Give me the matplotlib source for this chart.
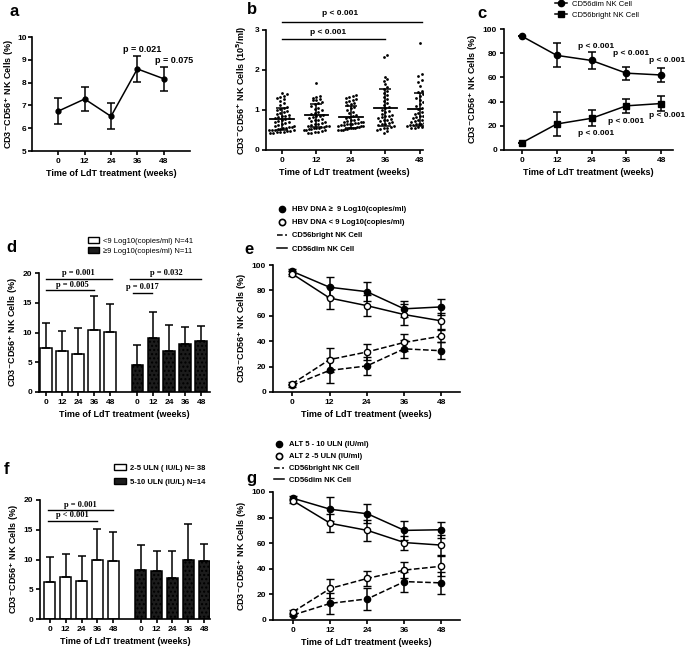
import matplotlib
matplotlib.use("Agg")
import matplotlib.pyplot as plt
import numpy as np
from matplotlib.lines import Line2D
from matplotlib.patches import Patch

plt.rcParams["font.family"] = ["Liberation Sans", "DejaVu Sans"]
plt.rcParams["font.weight"] = "bold"
plt.rcParams["axes.labelweight"] = "bold"
plt.rcParams["mathtext.default"] = "bf"

# ---- data ----
weeks = [0, 12, 24, 36, 48]
week_labels = ["0", "12", "24", "36", "48"]

# a: total NK %
a_mean = [6.75, 7.28, 6.52, 8.60, 8.17]
a_sd = [0.57, 0.51, 0.57, 0.58, 0.52]

# b: absolute counts per time point (10^5/ml)
b_w0 = [1.42, 1.40, 1.36, 1.33, 1.30, 1.27, 1.22, 1.18, 1.12, 1.08, 1.05, 1.03, 1.00, 0.97, 0.95,
        0.92, 0.90, 0.88, 0.86, 0.84, 0.82, 0.80, 0.79, 0.77, 0.75, 0.73, 0.71, 0.69, 0.67, 0.65,
        0.63, 0.61, 0.60, 0.58, 0.57, 0.55, 0.54, 0.53, 0.52, 0.51, 0.50, 0.50, 0.49, 0.48, 0.47,
        0.46, 0.45, 0.44, 0.43, 0.42]
b_w12 = [1.68, 1.35, 1.32, 1.30, 1.28, 1.26, 1.24, 1.20, 1.17, 1.14, 1.10, 1.06, 1.02, 0.99, 0.96,
         0.93, 0.90, 0.88, 0.86, 0.84, 0.82, 0.80, 0.78, 0.76, 0.74, 0.72, 0.70, 0.68, 0.66, 0.64,
         0.62, 0.61, 0.60, 0.59, 0.58, 0.57, 0.56, 0.55, 0.54, 0.53, 0.52, 0.51, 0.50, 0.49, 0.48,
         0.46, 0.44, 0.43, 0.42]
b_w24 = [1.38, 1.36, 1.33, 1.30, 1.28, 1.25, 1.23, 1.21, 1.18, 1.15, 1.12, 1.08, 1.04, 1.00, 0.96,
         0.92, 0.88, 0.85, 0.82, 0.80, 0.78, 0.76, 0.74, 0.72, 0.71, 0.70, 0.69, 0.68, 0.67, 0.66,
         0.65, 0.64, 0.63, 0.62, 0.61, 0.60, 0.59, 0.58, 0.57, 0.56, 0.55, 0.55, 0.54, 0.53, 0.52,
         0.51, 0.50, 0.50]
b_w36 = [2.38, 2.32, 1.82, 1.78, 1.72, 1.65, 1.58, 1.52, 1.48, 1.42, 1.38, 1.32, 1.28, 1.22, 1.18,
         1.12, 1.08, 1.04, 1.00, 0.97, 0.94, 0.91, 0.88, 0.86, 0.84, 0.82, 0.80, 0.78, 0.76, 0.74,
         0.72, 0.70, 0.68, 0.66, 0.64, 0.62, 0.60, 0.58, 0.56, 0.54, 0.52, 0.50, 0.47, 0.42]
b_w48 = [2.68, 1.90, 1.85, 1.76, 1.70, 1.60, 1.48, 1.44, 1.40, 1.36, 1.30, 1.25, 1.20, 1.15, 1.10,
         1.06, 1.02, 0.98, 0.95, 0.92, 0.90, 0.88, 0.86, 0.84, 0.82, 0.80, 0.78, 0.76, 0.75, 0.74,
         0.72, 0.71, 0.70, 0.69, 0.68, 0.67, 0.66, 0.65, 0.64, 0.63, 0.62, 0.61, 0.60, 0.59, 0.58,
         0.57, 0.56, 0.55]
b_mean = [0.77, 0.87, 0.83, 1.06, 1.02]
b_sd = [0.27, 0.29, 0.28, 0.47, 0.41]

# c: subsets
c_dim = [94.0, 78.2, 74.0, 63.5, 62.0]
c_dim_sd = [0.0, 10.0, 6.7, 5.5, 6.0]
c_bright = [6.0, 21.5, 26.2, 36.5, 38.4]
c_bright_sd = [0.0, 10.2, 6.5, 6.0, 6.2]

# d: by HBV DNA (bars)
d_low = [7.4, 6.85, 6.45, 10.5, 10.1]
d_low_sd = [4.2, 3.45, 4.35, 5.7, 4.7]
d_high = [4.55, 9.0, 6.9, 8.0, 8.5]
d_high_sd = [3.3, 4.5, 4.3, 2.95, 2.6]

# e: subsets by HBV DNA
e_dim_high = [95.0, 82.5, 79.0, 65.5, 67.0]
e_dim_high_sd = [2.0, 8.0, 7.5, 6.5, 6.3]
e_dim_low = [93.0, 74.0, 68.0, 61.0, 56.0]
e_dim_low_sd = [2.0, 9.0, 8.5, 8.0, 6.5]
e_bright_high = [5.2, 17.0, 20.5, 34.0, 32.5]
e_bright_high_sd = [1.0, 10.0, 7.2, 7.0, 6.5]
e_bright_low = [6.5, 25.5, 31.5, 39.0, 44.0]
e_bright_low_sd = [1.0, 9.5, 6.0, 6.5, 5.0]

# f: by ALT (bars)
f_low = [6.2, 7.0, 6.4, 9.9, 9.7]
f_low_sd = [4.2, 3.9, 4.2, 5.15, 4.9]
f_high = [8.3, 8.0, 6.85, 10.0, 9.75]
f_high_sd = [4.1, 3.5, 4.5, 6.0, 2.9]

# g: subsets by ALT
g_dim_high = [95.0, 86.5, 83.0, 70.0, 70.5]
g_dim_high_sd = [1.5, 9.5, 7.5, 7.3, 6.3]
g_dim_low = [93.0, 75.5, 70.0, 60.5, 58.5]
g_dim_low_sd = [1.5, 7.0, 8.5, 5.5, 8.0]
g_bright_high = [4.0, 13.0, 16.5, 30.0, 29.0]
g_bright_high_sd = [1.0, 8.3, 8.6, 7.8, 8.3]
g_bright_low = [6.5, 24.7, 32.5, 39.0, 42.0]
g_bright_low_sd = [1.0, 7.5, 6.0, 6.5, 7.8]

W, H = 685, 649
YLAB = "CD3$^{-}$CD56$^{+}$ NK Cells (%)"
XLAB = "Time of LdT treatment (weeks)"
FS = 6.0


def px_axes(fig, x0, y0, x1, y1):
    """axes from pixel box (left, top, right, bottom)"""
    return fig.add_axes([x0 / W, 1 - y1 / H, (x1 - x0) / W, (y1 - y0) / H])


def style(ax):
    for s in ["top", "right"]:
        ax.spines[s].set_visible(False)
    for s in ["left", "bottom"]:
        ax.spines[s].set_linewidth(1.2)
    ax.tick_params(width=1.2, length=3, labelsize=FS, pad=2)
    for lbl in ax.get_xticklabels() + ax.get_yticklabels():
        lbl.set_fontweight("bold")
    ax.set_xlabel(XLAB, fontsize=FS + 0.5, labelpad=3)


def panel_label(fig, x, y, s):
    fig.text(x / W, 1 - y / H, s, fontsize=12, fontweight="bold", ha="center", va="center")


def line_panel(ax, series, ylim, yticks):
    for vals, sd, filled, dashed in series:
        ax.errorbar(weeks, vals, yerr=sd, color="black", lw=1.1, ls="--" if dashed else "-",
                    marker="o", ms=4.5, mfc="black" if filled else "white", mec="black", mew=1.0,
                    capsize=3, capthick=1.1, elinewidth=1.1)
    ax.set_xlim(-6.2, 54)
    ax.set_ylim(*ylim)
    ax.set_xticks(weeks, week_labels)
    ax.set_yticks(yticks)
    ax.set_ylabel(YLAB, fontsize=FS + 0.5, labelpad=2)
    style(ax)


def bar_panel(ax, low, low_sd, high, high_sd):
    pos1 = np.arange(5)
    pos2 = np.arange(5) + 5.7
    ax.bar(pos1, low, 0.72, color="white", edgecolor="black", lw=1.1,
           yerr=[np.zeros(5), low_sd], error_kw=dict(capsize=3, elinewidth=1.1, capthick=1.1))
    ax.bar(pos2, high, 0.72, color="#1c1c1c", edgecolor="black", lw=1.1, hatch="....",
           yerr=[np.zeros(5), high_sd], error_kw=dict(capsize=3, elinewidth=1.1, capthick=1.1))
    ax.set_xlim(-0.45, 10.25)
    ax.set_ylim(0, 20)
    ax.set_yticks([0, 5, 10, 15, 20])
    ax.set_xticks(np.concatenate([pos1, pos2]), week_labels * 2)
    ax.set_ylabel(YLAB, fontsize=FS + 0.5, labelpad=2)
    style(ax)


def sig(ax, x0, x1, y, text, tx, ty):
    ax.plot([x0, x1], [y, y], color="black", lw=1.0, clip_on=False)
    ax.text(tx, ty, text, fontsize=FS, family=["Liberation Serif"], fontweight="bold",
            ha="center", va="center")


def swarm_offsets(vals, binw=0.1, step=0.1, half=0.36):
    # spread points of similar value side by side (layout only)
    vals = np.asarray(vals)
    off = np.zeros(len(vals))
    bins = np.floor(vals / binw).astype(int)
    for b in np.unique(bins):
        idx = np.where(bins == b)[0]
        n = len(idx)
        st = step if n < 2 else min(step, 2 * half / (n - 1))
        order = idx[np.argsort(vals[idx])]
        off[order] = (np.arange(n) - (n - 1) / 2) * st
    return off


fig = plt.figure(figsize=(W / 100, H / 100), dpi=100)

# ---- a ----
ax = px_axes(fig, 32, 37, 190, 151)
ax.errorbar(weeks, a_mean, yerr=a_sd, color="black", lw=1.1, marker="o", ms=3.5,
            capsize=3, capthick=1.1, elinewidth=1.1)
ax.set_xlim(-12, 60)
ax.set_ylim(5, 10)
ax.set_xticks(weeks, week_labels)
ax.set_yticks([5, 6, 7, 8, 9, 10])
ax.set_ylabel(YLAB, fontsize=FS + 0.5, labelpad=1)
style(ax)
ax.tick_params(axis="y", pad=1)
ax.text(38.4, 9.47, "p = 0.021", fontsize=FS + 0.5, ha="center", va="center")
ax.text(52.6, 8.95, "p = 0.075", fontsize=FS + 0.5, ha="center", va="center")
panel_label(fig, 14, 12, "a")

# ---- b ----
ax = px_axes(fig, 266, 30, 423, 150)
for i, vals in enumerate([b_w0, b_w12, b_w24, b_w36, b_w48]):
    off = swarm_offsets(vals)
    ax.scatter(i + off, vals, s=4, color="black", linewidths=0)
    ax.plot([i - 0.34, i + 0.34], [b_mean[i]] * 2, color="black", lw=1.3)
    ax.errorbar(i, b_mean[i], yerr=b_sd[i], color="black", capsize=4, elinewidth=1.1, capthick=1.1)
ax.set_xlim(-0.46, 4.09)
ax.set_ylim(0, 3)
ax.set_xticks(range(5), week_labels)
ax.set_yticks([0, 1, 2, 3])
ax.set_ylabel("CD3$^{-}$CD56$^{+}$ NK Cells (10$^{5}$/ml)", fontsize=FS + 0.5, labelpad=4)
style(ax)
ax.plot([0, 4.05], [3.21, 3.21], color="black", lw=1.0, clip_on=False)
ax.text(1.7, 3.42, "p < 0.001", fontsize=FS, ha="center", va="center")
ax.plot([0, 3.0], [2.77, 2.77], color="black", lw=1.0)
ax.text(1.33, 2.94, "p < 0.001", fontsize=FS, ha="center", va="center")
panel_label(fig, 252, 10, "b")

# ---- c ----
ax = px_axes(fig, 504, 29, 673, 150)
ax.errorbar(weeks, c_dim, yerr=c_dim_sd, color="black", lw=1.1, marker="o", ms=4.5,
            capsize=3, capthick=1.1, elinewidth=1.1)
ax.errorbar(weeks, c_bright, yerr=c_bright_sd, color="black", lw=1.1, marker="s", ms=4.5,
            capsize=3, capthick=1.1, elinewidth=1.1)
ax.set_xlim(-6.2, 52.1)
ax.set_ylim(0, 100)
ax.set_xticks(weeks, week_labels)
ax.set_yticks([0, 20, 40, 60, 80, 100])
ax.set_ylabel(YLAB, fontsize=FS + 0.5, labelpad=2)
style(ax)
for tx, ty in [(25.5, 85.4), (37.6, 79.5), (50, 73.8), (25.5, 13.8), (36, 23.5), (50, 28.7)]:
    ax.text(tx, ty, "p < 0.001", fontsize=FS, ha="center", va="center", clip_on=False)
hc = [Line2D([], [], color="black", lw=1.1, marker="o", ms=4.5),
      Line2D([], [], color="black", lw=1.1, marker="s", ms=4.5)]
fig.legend(hc, ["CD56dim NK Cell", "CD56bright NK Cell"], loc="upper left",
           bbox_to_anchor=(555 / W, 1 - 0.5 / H), frameon=False, handlelength=1.6,
           handletextpad=0.6, labelspacing=0.5, borderpad=0, borderaxespad=0,
           prop=dict(size=5.5, weight="normal"))
panel_label(fig, 482, 13, "c")

# ---- d ----
ax = px_axes(fig, 39, 273, 210, 392)
bar_panel(ax, d_low, d_low_sd, d_high, d_high_sd)
sig(ax, 0, 4.1, 19.0, "p = 0.001", 2.0, 20.0)
sig(ax, 0, 3.0, 17.1, "p = 0.005", 1.65, 18.0)
sig(ax, 5.25, 9.7, 19.0, "p = 0.032", 7.5, 20.0)
sig(ax, 5.42, 6.6, 16.6, "p = 0.017", 6.0, 17.6)
hd = [Patch(facecolor="white", edgecolor="black", lw=1.0),
      Patch(facecolor="#1c1c1c", edgecolor="black", lw=1.0)]
fig.legend(hd, ["<9 Log10(copies/ml) N=41", "\u22659 Log10(copies/ml) N=11"], loc="upper left",
           bbox_to_anchor=(88 / W, 1 - 237 / H), frameon=False, handlelength=1.4,
           handleheight=0.8, handletextpad=0.5, labelspacing=0.35, borderpad=0, borderaxespad=0,
           prop=dict(size=5.5, weight="normal"))
panel_label(fig, 11, 247, "d")

# ---- e ----
ax = px_axes(fig, 273, 265, 460, 392)
line_panel(ax, [(e_dim_high, e_dim_high_sd, True, False),
                (e_dim_low, e_dim_low_sd, False, False),
                (e_bright_high, e_bright_high_sd, True, True),
                (e_bright_low, e_bright_low_sd, False, True)], (0, 100), [0, 20, 40, 60, 80, 100])
he = [Line2D([], [], color="black", marker="o", ms=4.5, ls="None"),
      Line2D([], [], color="black", marker="o", ms=4.5, mfc="white", mew=1.2, ls="None"),
      Line2D([], [], color="black", lw=1.1, ls="--"),
      Line2D([], [], color="black", lw=1.1)]
fig.legend(he, ["HBV DNA \u2265  9 Log10(copies/ml)", "HBV DNA < 9 Log10(copies/ml)",
                "CD56bright NK Cell", "CD56dim NK Cell"], loc="upper left",
           bbox_to_anchor=(277 / W, 1 - 206 / H), frameon=False, handlelength=1.3,
           handletextpad=0.7, labelspacing=0.75, borderpad=0, borderaxespad=0,
           prop=dict(size=5.5, weight="bold"))
panel_label(fig, 249, 250, "e")

# ---- f ----
ax = px_axes(fig, 40, 500, 210, 619)
bar_panel(ax, f_low, f_low_sd, f_high, f_high_sd)
ax.set_xlim(-0.6, 10.05)
sig(ax, -0.07, 4.0, 18.3, "p = 0.001", 1.9, 19.2)
sig(ax, -0.07, 2.95, 16.5, "p < 0.001", 1.45, 17.5)
fig.legend(hd, ["2-5 ULN ( IU/L) N= 38", "5-10 ULN (IU/L) N=14"], loc="upper left",
           bbox_to_anchor=(114 / W, 1 - 464 / H), frameon=False, handlelength=1.6,
           handleheight=0.8, handletextpad=0.5, labelspacing=0.9, borderpad=0, borderaxespad=0,
           prop=dict(size=5.5, weight="bold"))
panel_label(fig, 6, 470, "f")

# ---- g ----
ax = px_axes(fig, 273, 492, 460, 620)
line_panel(ax, [(g_dim_high, g_dim_high_sd, True, False),
                (g_dim_low, g_dim_low_sd, False, False),
                (g_bright_high, g_bright_high_sd, True, True),
                (g_bright_low, g_bright_low_sd, False, True)], (0, 100), [0, 20, 40, 60, 80, 100])
ax.set_xlim(-6.6, 54)
fig.legend(he, ["ALT 5 - 10 ULN (IU/ml)", "ALT 2 -5 ULN (IU/ml)",
                "CD56bright NK Cell", "CD56dim NK Cell"], loc="upper left",
           bbox_to_anchor=(274 / W, 1 - 441 / H), frameon=False, handlelength=1.3,
           handletextpad=0.7, labelspacing=0.6, borderpad=0, borderaxespad=0,
           prop=dict(size=5.5, weight="bold"))
panel_label(fig, 251, 478, "g")

fig.savefig("out.png", dpi=100)
